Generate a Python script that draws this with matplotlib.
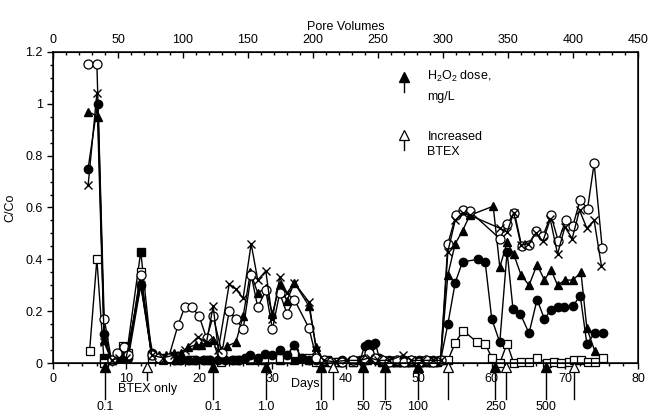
import matplotlib
matplotlib.use('Agg')
import matplotlib.pyplot as plt
from matplotlib.ticker import MultipleLocator

plt.rcParams['font.family'] = ['Liberation Sans', 'DejaVu Sans']
plt.rcParams['mathtext.default'] = 'regular'

# filled circles
fc_days = [4.8, 6.1, 7.0, 8.0, 8.7, 9.5, 10.3, 12.0, 13.6, 14.5, 15.5, 16.5, 17.5, 18.5,
           19.5, 20.5, 21.5, 22.5, 23.5, 24.5, 25.5, 26.2, 27.0, 28.0, 29.0, 30.0, 31.0,
           32.0, 33.0, 34.0, 35.0, 36.0, 37.0, 38.0, 39.5, 41.0, 42.0, 42.6, 43.1, 43.6,
           44.1, 44.6, 45.0, 45.5, 46.0, 46.5, 47.0, 47.5, 48.0, 48.5, 49.0, 49.5, 50.0,
           50.5, 51.0, 51.5, 52.0, 52.5, 53.0, 54.0, 55.0, 56.0, 58.1, 59.1, 60.0, 61.1,
           62.1, 62.9, 63.9, 65.1, 66.2, 67.2, 68.1, 69.0, 69.9, 71.1, 72.1, 73.0, 74.1, 75.2]
fc_vals = [0.75, 1.0, 0.11, 0.01, 0.02, 0.03, 0.02, 0.30, 0.04, 0.02, 0.02, 0.01, 0.01, 0.01,
           0.01, 0.01, 0.01, 0.01, 0.01, 0.01, 0.01, 0.02, 0.03, 0.02, 0.035, 0.03, 0.05,
           0.03, 0.07, 0.02, 0.01, 0.01, 0.005, 0.005, 0.01, 0.01, 0.01, 0.065, 0.075, 0.07,
           0.077, 0.02, 0.01, 0.005, 0.01, 0.005, 0.01, 0.005, 0.01, 0.005, 0.01, 0.005, 0.01,
           0.005, 0.01, 0.005, 0.01, 0.005, 0.01, 0.15, 0.31, 0.39, 0.40, 0.39, 0.17, 0.08,
           0.43, 0.21, 0.19, 0.115, 0.245, 0.17, 0.205, 0.215, 0.215, 0.22, 0.26, 0.075, 0.115, 0.115]

# open circles
oc_days = [4.8, 6.0, 7.0, 8.0, 8.8, 9.7, 10.3, 12.0, 13.5, 14.5, 15.8, 17.1, 18.0, 19.0,
           20.0, 21.0, 21.9, 23.1, 24.1, 25.0, 26.0, 27.1, 28.0, 29.1, 30.0, 31.0, 32.0,
           33.0, 35.0, 36.0, 37.0, 38.0, 39.5, 41.0, 42.5, 43.2, 44.0, 45.0, 46.0, 47.0,
           48.0, 49.0, 50.0, 51.0, 52.0, 53.0, 54.0, 55.1, 56.0, 57.0, 61.1, 62.1, 63.1,
           64.1, 65.1, 66.1, 67.0, 68.1, 69.1, 70.1, 71.1, 72.1, 73.1, 74.0, 75.1]
oc_vals = [1.155, 1.155, 0.17, 0.01, 0.04, 0.06, 0.03, 0.34, 0.03, 0.02, 0.02, 0.146, 0.215, 0.215,
           0.18, 0.095, 0.18, 0.04, 0.20, 0.17, 0.13, 0.34, 0.215, 0.28, 0.13, 0.27, 0.19,
           0.245, 0.135, 0.02, 0.01, 0.005, 0.005, 0.01, 0.01, 0.04, 0.02, 0.01, 0.005, 0.01,
           0.005, 0.01, 0.005, 0.01, 0.005, 0.01, 0.46, 0.57, 0.59, 0.585, 0.48, 0.535, 0.58,
           0.45, 0.455, 0.51, 0.49, 0.57, 0.47, 0.55, 0.53, 0.63, 0.595, 0.77, 0.445]

# crosses
cx_days = [4.8, 6.0, 7.0, 8.0, 9.0, 10.0, 12.0, 13.5, 15.0, 16.5, 18.0, 19.8, 21.0, 21.9,
           22.6, 24.1, 25.0, 26.0, 27.1, 28.0, 29.1, 30.0, 31.0, 32.0, 33.0, 35.0, 36.0,
           37.0, 38.5, 40.0, 42.0, 43.3, 44.5, 46.0, 47.9, 49.0, 50.5, 52.0, 53.0, 54.0,
           55.0, 56.0, 57.0, 61.1, 62.1, 63.0, 64.0, 65.0, 66.0, 67.0, 68.0, 69.0, 70.0,
           71.0, 72.0, 73.0, 74.0, 75.0]
cx_vals = [0.685, 1.04, 0.08, 0.01, 0.02, 0.02, 0.30, 0.03, 0.02, 0.03, 0.05, 0.10, 0.08, 0.22,
           0.05, 0.305, 0.285, 0.25, 0.46, 0.32, 0.355, 0.17, 0.33, 0.27, 0.31, 0.235, 0.05,
           0.01, 0.005, 0.01, 0.01, 0.02, 0.01, 0.01, 0.03, 0.01, 0.01, 0.01, 0.01, 0.43,
           0.55, 0.58, 0.57, 0.52, 0.505, 0.58, 0.455, 0.46, 0.50, 0.47, 0.555, 0.42, 0.525,
           0.48, 0.59, 0.52, 0.55, 0.375]

# filled triangles
ft_days = [4.8, 6.2, 7.0, 8.0, 9.0, 10.0, 12.0, 13.5, 14.5, 15.5, 16.5, 17.5, 18.5, 19.5,
           20.3, 21.0, 21.9, 22.6, 23.8, 25.0, 26.0, 27.0, 28.0, 29.1, 30.0, 31.0, 32.0,
           33.0, 35.0, 36.0, 37.0, 38.0, 39.5, 41.0, 42.5, 43.3, 44.0, 44.5, 45.0, 45.5,
           46.0, 46.5, 47.0, 47.5, 48.0, 48.5, 49.0, 49.5, 50.0, 50.5, 51.0, 51.5, 52.0,
           53.0, 54.0, 55.0, 56.0, 57.0, 60.2, 61.1, 62.1, 63.0, 64.0, 65.1, 66.2, 67.2,
           68.1, 69.0, 70.0, 71.1, 72.2, 73.0, 74.1]
ft_vals = [0.97, 0.95, 0.09, 0.01, 0.02, 0.02, 0.31, 0.03, 0.03, 0.03, 0.04, 0.04, 0.06, 0.07,
           0.07, 0.08, 0.09, 0.02, 0.065, 0.08, 0.18, 0.35, 0.27, 0.29, 0.19, 0.30, 0.24,
           0.31, 0.22, 0.06, 0.01, 0.005, 0.005, 0.01, 0.01, 0.03, 0.02, 0.01, 0.005, 0.01,
           0.005, 0.01, 0.005, 0.01, 0.005, 0.01, 0.005, 0.01, 0.005, 0.01, 0.005, 0.01, 0.005,
           0.01, 0.34, 0.46, 0.51, 0.57, 0.605, 0.37, 0.465, 0.42, 0.34, 0.30, 0.38, 0.32,
           0.36, 0.30, 0.32, 0.32, 0.35, 0.135, 0.045]

# open squares
os_days = [5.0, 6.0, 7.0, 8.0, 9.6, 10.3, 12.0, 13.5, 15.0, 17.0, 19.0, 21.0, 23.0, 25.0,
           27.0, 28.0, 29.0, 30.0, 31.0, 32.0, 33.0, 34.0, 35.0, 36.0, 37.5, 39.0, 41.0,
           43.2, 44.0, 45.5, 47.0, 48.5, 50.0, 51.5, 53.0, 54.0, 55.0, 56.1, 58.0, 59.1,
           60.0, 61.1, 62.1, 63.0, 64.0, 65.1, 66.2, 67.5, 68.5, 69.5, 70.5, 71.3, 72.2,
           73.1, 74.1, 75.2]
os_vals = [0.045, 0.40, 0.0, 0.01, 0.065, 0.04, 0.35, 0.02, 0.01, 0.01, 0.01, 0.01, 0.005, 0.01,
           0.015, 0.01, 0.01, 0.015, 0.02, 0.015, 0.04, 0.02, 0.02, 0.005, 0.005, 0.005, 0.005,
           0.04, 0.02, 0.005, 0.005, 0.005, 0.005, 0.005, 0.01, 0.01, 0.078, 0.125, 0.08, 0.075,
           0.02, 0.0, 0.075, 0.0, 0.005, 0.005, 0.02, 0.0, 0.005, 0.0, 0.005, 0.01, 0.01,
           0.005, 0.005, 0.02]

# filled squares
fs_days = [7.0, 8.0, 9.0, 10.0, 12.0, 13.5, 15.0, 17.0, 19.0, 21.0, 23.0, 25.0, 27.0, 29.0,
           31.0, 33.0, 35.0, 36.5, 37.5, 39.0, 41.0, 43.0, 45.0, 47.0, 49.0, 51.0, 52.5]
fs_vals = [0.02, 0.01, 0.02, 0.02, 0.43, 0.03, 0.02, 0.01, 0.01, 0.01, 0.01, 0.01, 0.01, 0.01,
           0.01, 0.01, 0.01, 0.005, 0.01, 0.005, 0.005, 0.01, 0.005, 0.005, 0.005, 0.005, 0.005]

# H2O2 dose arrows and increased BTEX arrows
dose_days = [7.1, 21.9, 29.1, 36.6, 42.4, 45.4, 49.9, 60.5, 67.4]
dose_labels = ['0.1', '0.1', '1.0', '10', '50', '75', '100', '250', '500']
btex_days = [12.9, 38.3, 54.0, 62.0, 71.2]

fig = plt.figure(figsize=(6.49, 4.15), dpi=100)
ax = fig.add_axes([53 / 649, 1 - 363 / 415, (638 - 53) / 649, (363 - 52) / 415])

kw = dict(color='black', lw=1, clip_on=False)
ax.plot(fs_days, fs_vals, marker='s', ms=5.5, mfc='black', mec='black', **kw)
ax.plot(os_days, os_vals, marker='s', ms=5.5, mfc='white', mec='black', mew=0.9, **kw)
ax.plot(ft_days, ft_vals, marker='^', ms=6, mfc='black', mec='black', **kw)
ax.plot(fc_days, fc_vals, marker='o', ms=6, mfc='black', mec='black', **kw)
ax.plot(oc_days, oc_vals, marker='o', ms=6.5, mfc='white', mec='black', mew=0.9, **kw)
ax.plot(cx_days, cx_vals, marker='x', ms=6, mew=1, **kw)

# arrows under the axis
for d, lab in zip(dose_days, dose_labels):
    ax.plot([d, d], [-0.03, -0.14], color='black', lw=1, clip_on=False)
    ax.plot([d], [-0.014], marker='^', ms=7, mfc='black', mec='black', clip_on=False)
    ax.text(d, -0.148, lab, ha='center', va='top', fontsize=9)
for i, d in enumerate(btex_days):
    bottom = -0.065 if i == 0 else -0.14
    ax.plot([d, d], [-0.03, bottom], color='black', lw=1, clip_on=False)
    ax.plot([d], [-0.014], marker='^', ms=7, mfc='white', mec='black', mew=0.9, clip_on=False)
ax.text(btex_days[0], -0.078, 'BTEX only', ha='center', va='top', fontsize=9)
ax.text(34.5, -0.056, 'Days', ha='center', va='top', fontsize=9)

# legend arrows
ax.plot([48.0, 48.0], [1.095, 1.045], color='black', lw=1)
ax.plot([48.0], [1.104], marker='^', ms=7, mfc='black', mec='black')
ax.text(51.2, 1.104, 'H$_2$O$_2$ dose,', ha='left', va='center', fontsize=9)
ax.text(51.2, 1.027, 'mg/L', ha='left', va='center', fontsize=9)
ax.plot([48.0, 48.0], [0.87, 0.82], color='black', lw=1)
ax.plot([48.0], [0.88], marker='^', ms=7, mfc='white', mec='black', mew=0.9)
ax.text(51.2, 0.873, 'Increased', ha='left', va='center', fontsize=9)
ax.text(51.2, 0.815, 'BTEX', ha='left', va='center', fontsize=9)

ax.set_xlim(0, 80)
ax.set_ylim(0, 1.2)
ax.xaxis.set_major_locator(MultipleLocator(10))
ax.xaxis.set_minor_locator(MultipleLocator(2))
ax.yaxis.set_major_locator(MultipleLocator(0.2))
ax.yaxis.set_minor_locator(MultipleLocator(0.05))
ax.set_yticks([0, 0.2, 0.4, 0.6, 0.8, 1.0, 1.2])
ax.set_yticklabels(['0', '0.2', '0.4', '0.6', '0.8', '1', '1.2'])
ax.tick_params(axis='both', which='both', labelsize=9, direction='out', width=1)
ax.tick_params(axis='both', which='major', length=4)
ax.tick_params(axis='both', which='minor', length=2)
ax.tick_params(axis='x', pad=3)
ax.set_ylabel('C/Co', fontsize=9, labelpad=6)
for s in ax.spines.values():
    s.set_linewidth(1.1)

ax2 = ax.twiny()
ax2.set_xlim(0, 450)
ax2.xaxis.set_major_locator(MultipleLocator(50))
ax2.xaxis.set_minor_locator(MultipleLocator(10))
ax2.tick_params(axis='x', which='both', direction='in', labelsize=9, width=1, pad=4)
ax2.tick_params(axis='x', which='major', length=4)
ax2.tick_params(axis='x', which='minor', length=2)
ax2.set_xlabel('Pore Volumes', fontsize=9, labelpad=3)

fig.savefig('out.png', dpi=100)
